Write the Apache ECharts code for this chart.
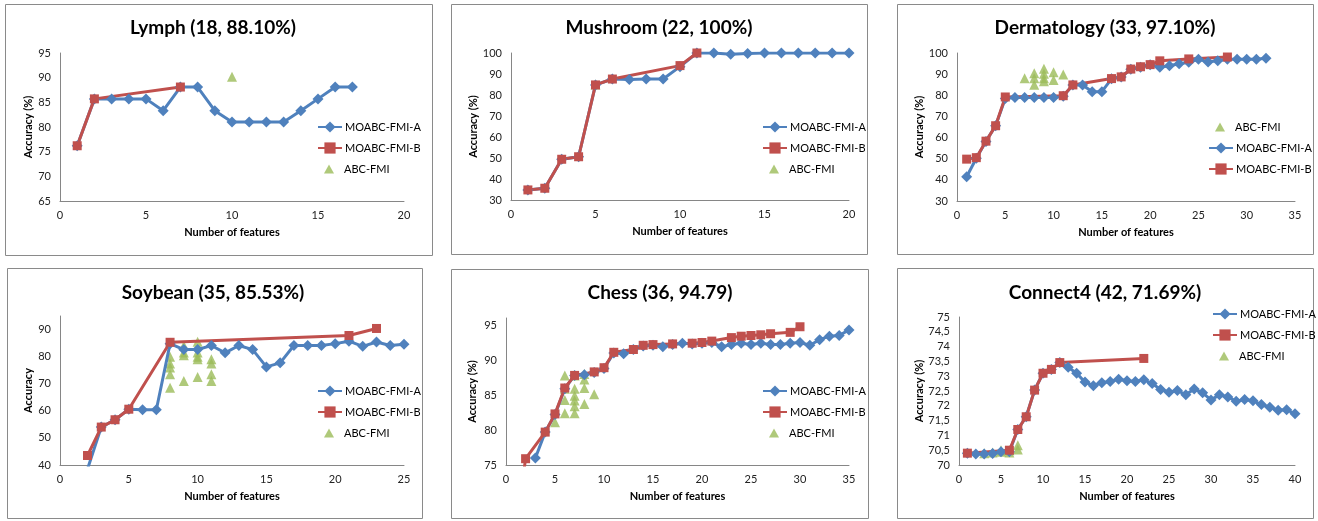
<!DOCTYPE html>
<html><head><meta charset="utf-8">
<script src="https://cdn.jsdelivr.net/npm/echarts@6/dist/echarts.min.js"></script>
<style>
html,body{margin:0;padding:0;background:#fff}
#main{width:1318px;height:521px}
</style></head><body>
<div id="main"></div>
<script>
// ---------- data ----------
const nameA = 'MOABC-FMI-A', nameB = 'MOABC-FMI-B', nameC = 'ABC-FMI';
const titles = ['Lymph (18, 88.10%)', 'Mushroom (22, 100%)', 'Dermatology (33, 97.10%)',
                'Soybean (35, 85.53%)', 'Chess (36, 94.79)', 'Connect4 (42, 71.69%)'];
const xLabelName = 'Number of features';
const yLabelNames = ['Accuracy (%)', 'Accuracy (%)', 'Accuracy (%)', 'Accuracy', 'Accuracy (%)', 'Accuracy (%)'];

// Lymph
const lymphA = [[1,76.2],[2,85.7],[3,85.7],[4,85.7],[5,85.7],[6,83.3],[7,88.1],[8,88.1],[9,83.3],[10,81.0],[11,81.0],[12,81.0],[13,81.0],[14,83.3],[15,85.7],[16,88.1],[17,88.1]];
const lymphB = [[1,76.2],[2,85.7],[7,88.1]];
const lymphC = [[10,90.2]];
// Mushroom
const mushA = [[1,34.8],[2,35.6],[3,49.4],[4,50.6],[5,84.8],[6,87.6],[7,87.4],[8,87.6],[9,87.6],[10,93.5],[11,100],[12,100],[13,99.4],[14,99.8],[15,100],[16,100],[17,100],[18,100],[19,100],[20,100]];
const mushB = [[1,34.8],[2,35.6],[3,49.4],[4,50.6],[5,84.8],[6,87.6],[10,94.0],[11,100]];
const mushC = [[5,85]];
// Dermatology
const dermA = [[1,41.5],[2,50.2],[3,58.2],[4,65.6],[5,78.5],[6,79],[7,79],[8,79],[9,79],[10,79],[11,79.5],[12,84.9],[13,84.9],[14,81.7],[15,81.7],[16,87.8],[17,88.6],[18,92.3],[19,93.3],[20,94.4],[21,93.3],[22,94.0],[23,94.9],[24,95.6],[25,97.0],[26,95.8],[27,96.3],[28,97.0],[29,97.0],[30,97.1],[31,97.1],[32,97.5]];
const dermB = [[1,49.8],[2,50.5],[3,58.3],[4,65.6],[5,79.2],[11,79.8],[12,84.9],[16,87.9],[17,88.7],[18,92.4],[19,93.5],[20,94.5],[21,96.3],[24,97.2],[28,98.1]];
const dermC = [[7,88],[8,90.4],[8,88],[8,85],[9,92.6],[9,90.2],[9,88],[9,86.6],[10,90.9],[10,87.2],[11,89.8]];
// Soybean
const soyA = [[2,38.5],[3,54],[4,56.7],[5,60.6],[6,60.4],[7,60.4],[8,84.8],[9,82.6],[10,82.6],[11,84.1],[12,81.4],[13,84.1],[14,82.6],[15,76.2],[16,77.7],[17,84.1],[18,84.1],[19,84.1],[20,84.8],[21,85.7],[22,83.8],[23,85.4],[24,84.1],[25,84.6]];
const soyB = [[2,43.5],[3,54],[4,56.7],[5,60.6],[8,85.3],[21,87.8],[23,90.4]];
const soyC = [[8,80],[8,77.5],[8,76],[8,73.5],[8,68.5],[9,84],[9,81.5],[9,80.5],[9,71],[10,85.5],[10,81.5],[10,80],[10,79],[10,72.5],[11,79],[11,77.5],[11,73.5],[11,71]];
// Chess
const chessA = [[3,76],[4,79.7],[5,82.2],[6,85.9],[7,87.8],[8,87.9],[9,88.2],[10,88.8],[11,91],[12,90.9],[13,91.5],[14,92],[15,92.1],[16,91.9],[17,92.2],[18,92.4],[19,92.3],[20,92.4],[21,92.5],[22,91.9],[23,92.2],[24,92.4],[25,92.2],[26,92.4],[27,92.2],[28,92.2],[29,92.4],[30,92.5],[31,92.1],[32,92.9],[33,93.4],[34,93.5],[35,94.3]];
const chessB = [[1,66],[2,75.9],[4,79.7],[5,82.3],[6,86],[7,87.8],[9,88.3],[10,88.9],[11,91.1],[13,91.5],[14,92.1],[15,92.2],[17,92.3],[19,92.4],[20,92.5],[21,92.7],[23,93.2],[24,93.4],[25,93.5],[26,93.6],[27,93.75],[29,93.95],[30,94.75]];
const chessC = [[5,81.1],[6,87.8],[6,85.9],[6,84.3],[6,82.4],[7,87.8],[7,85.9],[7,84.9],[7,84.2],[7,83.4],[7,82.4],[8,88],[8,87.2],[8,86],[8,83.7],[9,85.1]];
// Connect4
const conA = [[1,70.4],[2,70.37],[3,70.37],[4,70.39],[5,70.45],[6,70.45],[7,71.2],[8,71.63],[9,72.53],[10,73.1],[11,73.23],[12,73.46],[13,73.3],[14,73.1],[15,72.8],[16,72.68],[17,72.78],[18,72.82],[19,72.9],[20,72.85],[21,72.82],[22,72.88],[23,72.75],[24,72.55],[25,72.46],[26,72.52],[27,72.37],[28,72.57],[29,72.44],[30,72.2],[31,72.37],[32,72.3],[33,72.15],[34,72.21],[35,72.17],[36,72.04],[37,71.95],[38,71.85],[39,71.87],[40,71.73]];
const conB = [[1,70.4],[6,70.5],[7,71.2],[8,71.63],[9,72.53],[10,73.1],[11,73.23],[12,73.46],[22,73.6]];
const conC = [[3,70.4],[4,70.42],[5,70.5],[5,70.45],[6,70.42],[6,70.5],[7,70.67],[7,70.52]];

// axis ranges
const xMaxs = [20, 20, 35, 25, 35, 40];
const xSteps = [5, 5, 5, 5, 5, 5];
const yMins = [65, 30, 30, 40, 75, 70];
const yMaxs = [95, 100, 100, 95, 96, 75];
const ySteps = [5, 10, 10, 10, 5, 0.5];

const seriesA = [lymphA, mushA, dermA, soyA, chessA, conA];
const seriesB = [lymphB, mushB, dermB, soyB, chessB, conB];
const seriesC = [lymphC, mushC, dermC, soyC, chessC, conC];
const legendOrders = [
  [nameA, nameB, nameC], [nameA, nameB, nameC], [nameC, nameA, nameB],
  [nameA, nameB, nameC], [nameA, nameB, nameC], [nameA, nameB, nameC]
];

// ---------- layout ----------
const colA = '#4F81BD', colB = '#C0504D', colC = '#9BBB59';
const FONT = 'Lato, "Liberation Sans", sans-serif';
const frames = [[5,4,427,251],[451,4,416,250],[897,4,416,250],[7,268,415,250],[451,269,417,249],[897,268,416,250]];
const grids = [[60,53,344,148],[511,53,338,147],[957,53,338,148],[60,316,344,149],[506,318,343,147],[959,317,336,148]];
const titlePos = [[213,28],[659,28],[1105,28],[213,293],[660,293],[1105,293]];
const legendPos = [[317,127],[762,127],[1208,127],[317,391],[762,391],[1212,314]]; // icon left, first row centre
const yNameGaps = [26,32,32,26,28,34];

const legends = [];
legendOrders.forEach((order, i) => {
  order.forEach((nm, k) => {
    const isC = nm === nameC;
    legends.push({
      data: [nm], orient: 'vertical', padding: 0, selectedMode: false,
      left: legendPos[i][0] + (isC ? 7 : 0), top: legendPos[i][1] + k * 21 - 7,
      itemWidth: isC ? 10 : 24, itemHeight: isC ? 9 : 14,
      textStyle: { fontFamily: FONT, fontSize: 11, color: '#000',
                   padding: [0, 0, 0, isC ? 5 : -2], lineHeight: 14 }
    });
  });
});

const option = {
  animation: false,
  backgroundColor: '#fff',
  textStyle: { fontFamily: FONT },
  graphic: frames.map(f => ({
    type: 'rect', silent: true, z: -10,
    shape: { x: f[0] + 0.5, y: f[1] + 0.5, width: f[2], height: f[3] },
    style: { fill: '#fff', stroke: '#8a8a8a', lineWidth: 1 }
  })),
  title: titles.map((t, i) => ({
    text: t, left: titlePos[i][0], top: titlePos[i][1], padding: 0,
    textAlign: 'center', textVerticalAlign: 'middle',
    textStyle: { fontFamily: FONT, fontSize: 19, fontWeight: 'bold', color: '#000' }
  })),
  legend: legends,
  grid: grids.map(g => ({ left: g[0], top: g[1], width: g[2], height: g[3], containLabel: false })),
  xAxis: grids.map((g, i) => ({
    type: 'value', gridIndex: i, min: 0, max: xMaxs[i], interval: xSteps[i],
    name: xLabelName, nameLocation: 'middle', nameGap: 26,
    nameTextStyle: { fontFamily: FONT, fontSize: 11, fontWeight: 'bold', color: '#000' },
    axisLine: { show: true, onZero: false, lineStyle: { color: '#868686', width: 1 } },
    axisTick: { show: false }, splitLine: { show: false },
    axisLabel: { fontFamily: FONT, fontSize: 11, color: '#222', margin: 9 }
  })),
  yAxis: grids.map((g, i) => ({
    type: 'value', gridIndex: i, min: yMins[i], max: yMaxs[i], interval: ySteps[i],
    name: yLabelNames[i], nameLocation: 'middle', nameGap: yNameGaps[i], nameRotate: 90,
    nameTextStyle: { fontFamily: FONT, fontSize: 11, fontWeight: 'bold', color: '#000' },
    axisLine: { show: true, onZero: false, lineStyle: { color: '#868686', width: 1 } },
    axisTick: { show: false }, splitLine: { show: false },
    axisLabel: {
      fontFamily: FONT, fontSize: 11, color: '#222', margin: 9,
      showMaxLabel: (yMaxs[i] - yMins[i]) % ySteps[i] === 0,
      formatter: v => String(v).replace('.', ',')
    }
  })),
  series: []
};

for (let i = 0; i < 6; i++) {
  option.series.push({
    name: nameA, type: 'line', xAxisIndex: i, yAxisIndex: i, data: seriesA[i],
    symbol: 'diamond', symbolSize: 11, showAllSymbol: true, clip: true,
    lineStyle: { color: colA, width: 3 }, itemStyle: { color: colA }
  });
  option.series.push({
    name: nameB, type: 'line', xAxisIndex: i, yAxisIndex: i, data: seriesB[i],
    symbol: 'rect', symbolSize: 9, showAllSymbol: true, clip: true,
    lineStyle: { color: colB, width: 3 }, itemStyle: { color: colB }
  });
  option.series.push({
    name: nameC, type: 'scatter', xAxisIndex: i, yAxisIndex: i, data: seriesC[i],
    symbol: 'triangle', symbolSize: 10, itemStyle: { color: colC }
  });
}

const chart = echarts.init(document.getElementById('main'), null, { renderer: 'canvas' });
chart.setOption(option);
</script>
</body></html>
